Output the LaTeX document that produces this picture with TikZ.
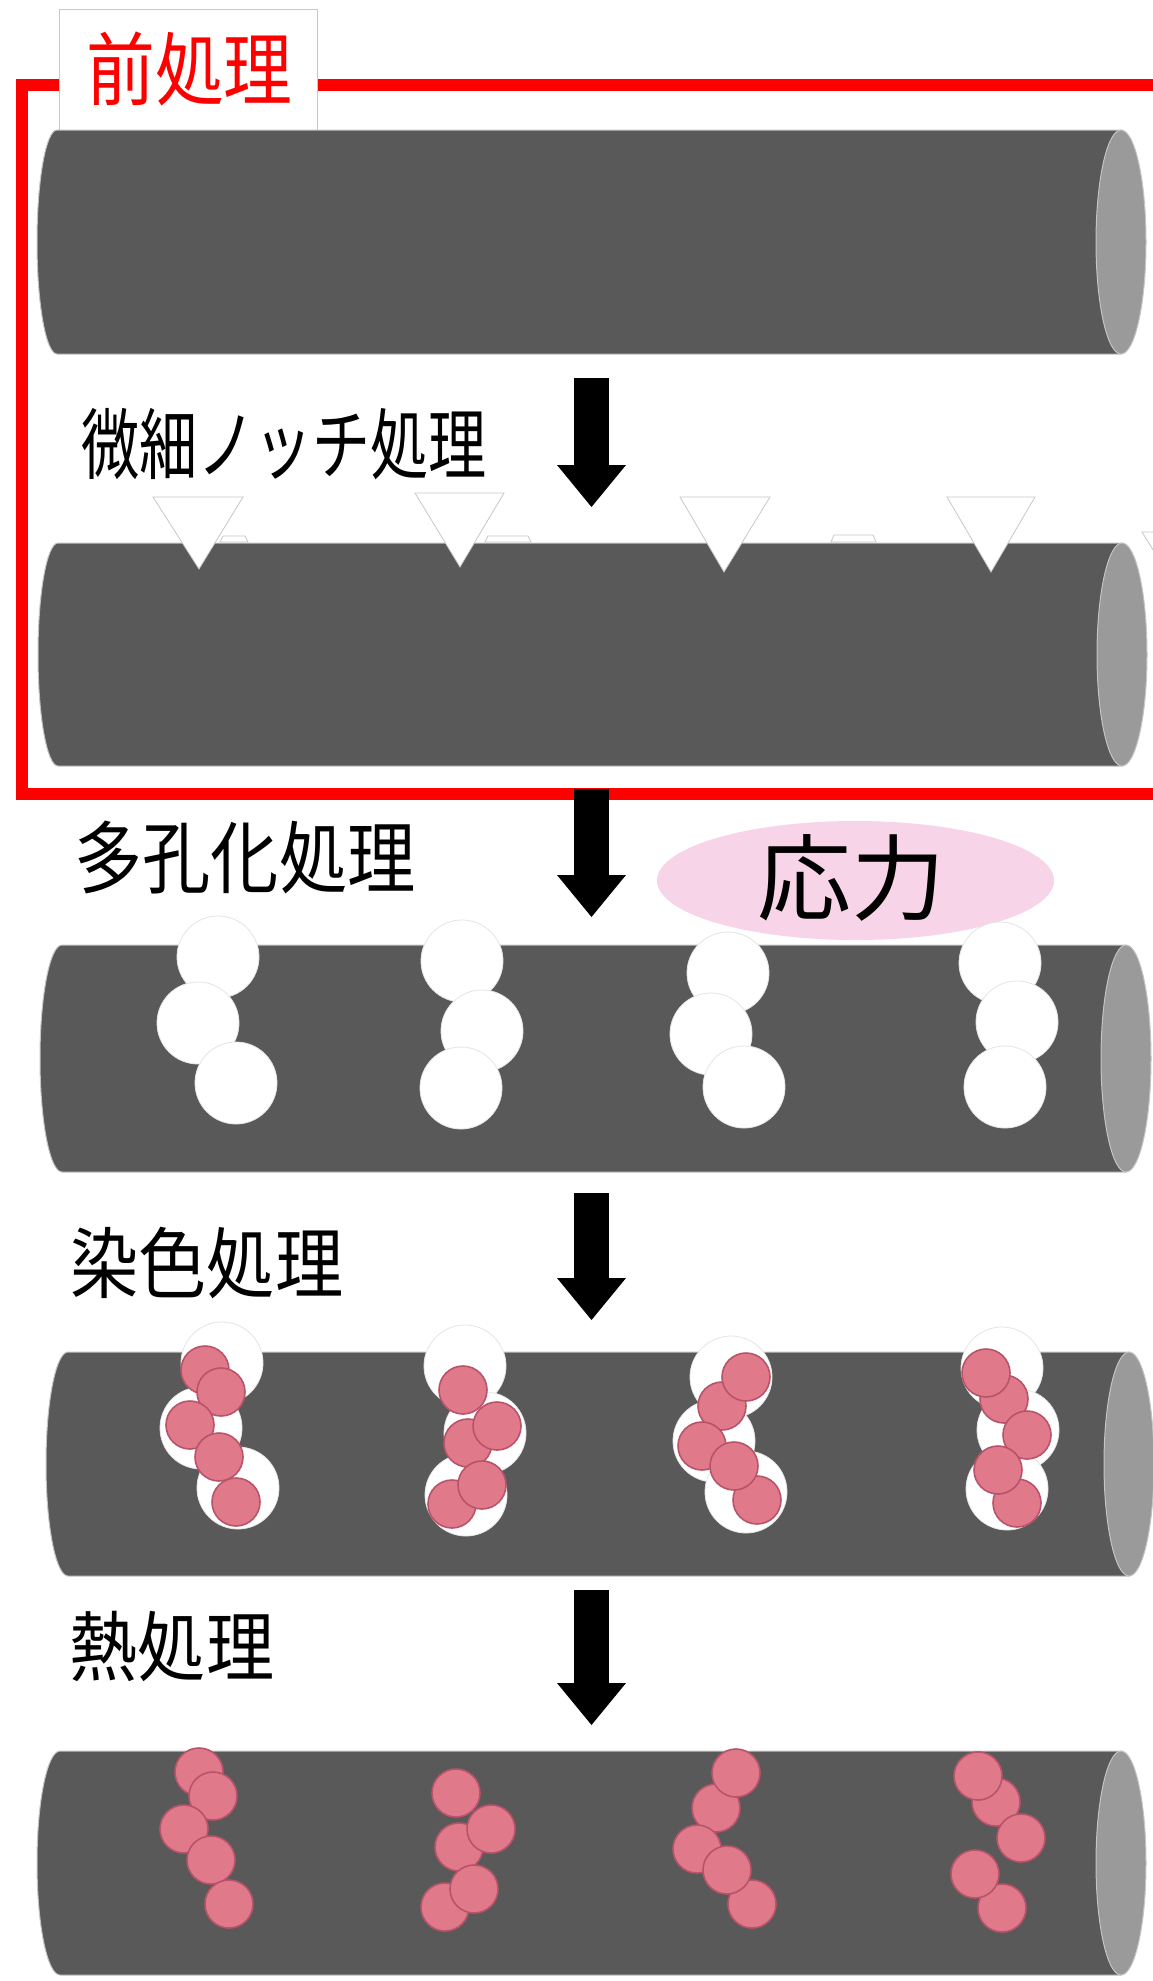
\documentclass[tikz,border=0pt]{standalone}
\usepackage{fontspec}
\usepackage{graphicx}
\usetikzlibrary{arrows.meta}
\newfontfamily\jpfont{Noto Sans CJK JP}

\definecolor{rod}{HTML}{595959}
\definecolor{rodend}{HTML}{9A9A9A}
\definecolor{rodedge}{HTML}{C4C4C4}
\definecolor{dye}{HTML}{E07A8A}
\definecolor{dyeedge}{HTML}{B9536A}
\definecolor{stressbg}{HTML}{F7D4E8}
\definecolor{framered}{HTML}{FF0000}

\tikzset{
  rodbody/.style={fill=rod, draw=rodedge, line width=1},
  rodcap/.style={fill=rodend, draw=rodedge, line width=1},
  porehole/.style={fill=white, draw=black!10, line width=0.8},
  dyedot/.style={fill=dye, draw=dyeedge, line width=1.6},
  notchmark/.style={fill=white, draw=black!22, line width=0.8},
  steplabel/.style={inner sep=0, text=black},
  labelsize/.style={font={\jpfont\fontsize{#1}{#1}\selectfont}},
  flowarrow/.style={black, line width=35,
    -{Triangle[width=69pt, length=42pt, line width=0pt]}},
}

% rod: left bulge x, corner x, cap centre x, top y, bottom y
\newcommand{\drawrod}[5]{%
  \path[rodbody] (#2,#4) -- (#3,#4) -- (#3,#5) -- (#2,#5)
     arc[start angle=90, end angle=270, x radius={#2-#1}, y radius={(#5-#4)/2}] -- cycle;
  \path[rodcap] (#3,{(#4+#5)/2}) ellipse[x radius=25, y radius={(#5-#4)/2}];
}
\newcommand{\drawpore}[2]{\path[porehole] (#1,#2) circle[radius=41];}
\newcommand{\drawdye}[2]{\path[dyedot] (#1,#2) circle[radius=24];}

\begin{document}
\begin{tikzpicture}[x=1pt, y=-1pt]
\useasboundingbox (0,0) rectangle (1153,1981);
\clip (0,0) rectangle (1153,1981);
\fill[white] (0,0) rectangle (1153,1981);

% pre-treatment frame
\draw[framered, line width=12, line join=miter] (1170,85) -- (21.5,85) -- (21.5,794) -- (1170,794);
\node[draw=black!22, fill=white, line width=1, minimum width=258, minimum height=121, inner sep=0] (prebox) at (188,69.5) {};
\node[steplabel, text=framered, labelsize=80] (pretext) at (189.5,68.5) {\scalebox{0.86}[1]{前処理}};

% stage 1: plain rod
\drawrod{37}{57}{1121}{130}{354}

% micro notch step
\node[steplabel, labelsize=77.5] (notchtext) at (284,444.5) {\scalebox{0.75}[1]{微細ノッチ処理}};
\coordinate (a1s) at (591.5,378);
\coordinate (a1e) at (591.5,507);
\draw[flowarrow] (a1s) -- (a1e);

% stage 2: notched rod
\drawrod{38}{58}{1122}{543}{766}
\path[notchmark] (220,542) -- (223,536) -- (245,536) -- (248,542) -- cycle;
\path[notchmark] (485,542) -- (488,536) -- (528,536) -- (531,542) -- cycle;
\path[notchmark] (831,542) -- (834,535) -- (873,535) -- (876,542) -- cycle;
\path[notchmark] (153,497) -- (243,497) -- (199,569) -- cycle;
\path[notchmark] (415,493) -- (504,493) -- (460,567) -- cycle;
\path[notchmark] (680,497) -- (770,497) -- (724,572) -- cycle;
\path[notchmark] (947,497) -- (1035,497) -- (991,572) -- cycle;
\path[notchmark] (1142,532) -- (1232,532) -- (1187,605) -- cycle;

% porosification step
\coordinate (a2s) at (591.5,789);
\coordinate (a2e) at (591.5,917);
\draw[flowarrow] (a2s) -- (a2e);
\node[steplabel, labelsize=79] (poretext) at (245,858) {\scalebox{0.864}[1]{多孔化処理}};
\fill[stressbg] (855.5,880.5) ellipse[x radius=198.5, y radius=59.5];
\node[steplabel, labelsize=94] (stresstext) at (851,878) {応力};

% stage 3: porous rod
\drawrod{40}{62}{1126}{945}{1172}
\drawpore{218}{957}\drawpore{198}{1023}\drawpore{236}{1083}
\drawpore{462}{961}\drawpore{482}{1031}\drawpore{461}{1088}
\drawpore{728}{973}\drawpore{711}{1034}\drawpore{744}{1087}
\drawpore{1000}{963}\drawpore{1017}{1022}\drawpore{1005}{1087}

% dyeing step
\coordinate (a3s) at (591.5,1193);
\coordinate (a3e) at (591.5,1320);
\draw[flowarrow] (a3s) -- (a3e);
\node[steplabel, labelsize=77.5] (dyetext) at (207,1262.5) {\scalebox{0.88}[1]{染色処理}};

% stage 4: dyed rod
\drawrod{46}{68}{1129}{1352}{1576}
\drawpore{222}{1363}\drawpore{201}{1428}\drawpore{238}{1488}
\drawpore{465}{1366}\drawpore{485}{1433}\drawpore{466}{1495}
\drawpore{731}{1377}\drawpore{714}{1441}\drawpore{746}{1492}
\drawpore{1002}{1368}\drawpore{1018}{1430}\drawpore{1007}{1489}
\drawdye{205}{1370}\drawdye{221}{1392}\drawdye{190}{1425}\drawdye{219}{1457}\drawdye{236}{1502}
\drawdye{463}{1390}\drawdye{468}{1443}\drawdye{497}{1426}\drawdye{452}{1504}\drawdye{482}{1485}
\drawdye{722}{1406}\drawdye{746}{1377}\drawdye{702}{1446}\drawdye{757}{1500}\drawdye{734}{1466}
\drawdye{1004}{1399}\drawdye{986}{1373}\drawdye{1027}{1435}\drawdye{1017}{1503}\drawdye{998}{1470}

% heat treatment step
\coordinate (a4s) at (591.5,1590);
\coordinate (a4e) at (591.5,1725);
\draw[flowarrow] (a4s) -- (a4e);
\node[steplabel, labelsize=76.5] (heattext) at (172,1646) {\scalebox{0.89}[1]{熱処理}};

% stage 5: sealed rod
\drawrod{37}{60}{1121}{1751}{1975}
\drawdye{199}{1772}\drawdye{213}{1796}\drawdye{184}{1829}\drawdye{211}{1860}\drawdye{229}{1904}
\drawdye{456}{1793}\drawdye{459}{1847}\drawdye{491}{1829}\drawdye{445}{1907}\drawdye{474}{1889}
\drawdye{716}{1808}\drawdye{736}{1773}\drawdye{697}{1849}\drawdye{752}{1904}\drawdye{727}{1870}
\drawdye{996}{1802}\drawdye{978}{1776}\drawdye{1021}{1838}\drawdye{1002}{1908}\drawdye{975}{1874}
\end{tikzpicture}
\end{document}
